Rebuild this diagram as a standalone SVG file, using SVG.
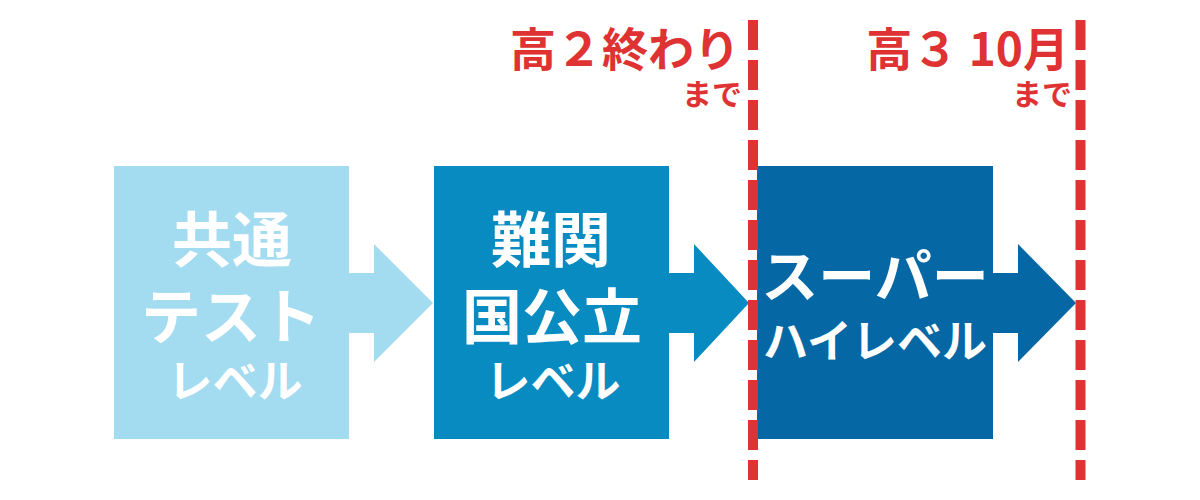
<svg xmlns="http://www.w3.org/2000/svg" width="1200" height="500" viewBox="0 0 1200 500">
<style>
.t{font-family:"Noto Sans CJK JP","Noto Sans",sans-serif;font-weight:700;}
.w{fill:#ffffff;text-anchor:middle;}
.r{fill:#df3333;text-anchor:end;}
.dash{stroke:#df3333;stroke-width:10;stroke-dasharray:30 10;fill:none;}
</style>
<rect width="1200" height="500" fill="#ffffff"/>
<g id="connectors">
<polygon points="349,273 374,273 374,244 433,303 374,362 374,333 349,333" fill="#a3dbf1"/>
<polygon points="669,273 694,273 694,244 749,303 694,362 694,333 669,333" fill="#078bc0"/>
<polygon points="993,273 1018,273 1018,244 1076,303 1018,362 1018,333 993,333" fill="#0568a5"/>
</g>
<g id="node-kyotsu">
<rect x="114" y="166" width="235" height="273" fill="#a3dbf1"/>
<text class="t w" x="232" y="262" font-size="60">共通</text>
<text class="t w" x="231" y="339" font-size="60">テスト</text>
<text class="t w" x="235" y="398" font-size="45">レベル</text>
</g>
<g id="node-nankan">
<rect x="434" y="166" width="235" height="273" fill="#078bc0"/>
<text class="t w" x="551" y="262" font-size="60">難関</text>
<text class="t w" x="552" y="339" font-size="60">国公立</text>
<text class="t w" x="553" y="398" font-size="45">レベル</text>
</g>
<g id="node-super">
<rect x="757" y="166" width="236" height="273" fill="#0568a5"/>
<text class="t w" x="875" y="297" font-size="57">スーパー</text>
<text class="t w" x="875" y="358" font-size="45">ハイレベル</text>
</g>
<g id="deadline-1">
<line class="dash" x1="753" y1="20" x2="753" y2="480"/>
<text class="t r" x="740" y="66" font-size="46">高２終わり</text>
<text class="t r" x="742" y="105" font-size="30">まで</text>
</g>
<g id="deadline-2">
<line class="dash" x1="1080.5" y1="20" x2="1080.5" y2="480"/>
<text class="t r" x="1069" y="66" font-size="46">高３ 10月</text>
<text class="t r" x="1072" y="105" font-size="30">まで</text>
</g>
</svg>
